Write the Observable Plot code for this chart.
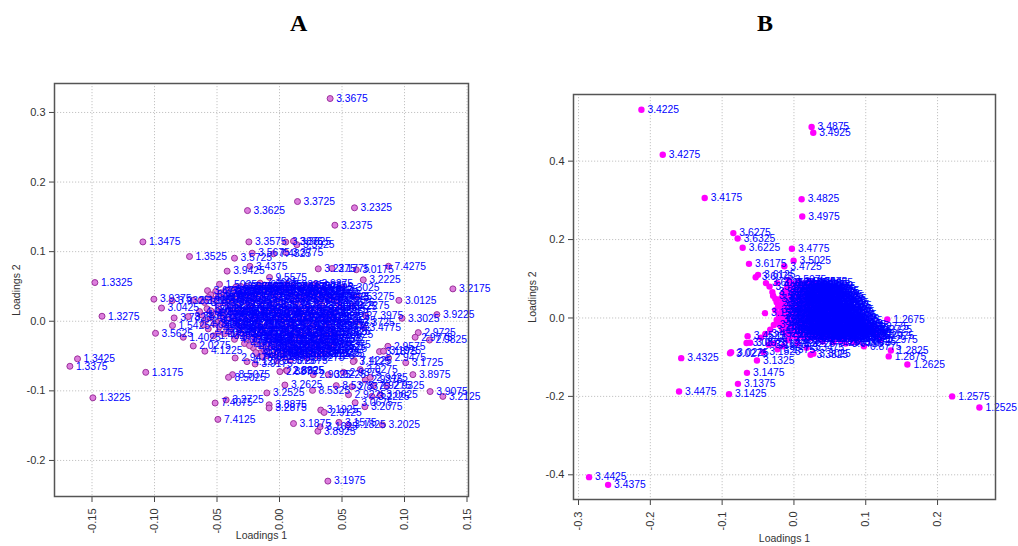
<!DOCTYPE html>
<html><head><meta charset="utf-8">
<script src="https://cdn.jsdelivr.net/npm/d3@7"></script>
<script src="https://cdn.jsdelivr.net/npm/@observablehq/plot@0.6"></script>
<style>
body{margin:0;background:#fff;}
#wrap{position:relative;width:1018px;height:546px;overflow:hidden;background:#fff;}
.ttl{position:absolute;font-family:"Liberation Serif","Times New Roman",serif;font-weight:bold;font-size:24px;line-height:1;color:#000;}
#pa{position:absolute;left:0;top:60px;}
#pb{position:absolute;left:510px;top:60px;}
</style></head><body>
<div id="wrap">
<div class="ttl" style="left:290px;top:11px">A</div>
<div class="ttl" style="left:757px;top:11px">B</div>
<div id="pa"></div><div id="pb"></div>
</div>
<script>
// ---------- Panel A : [loading1, loading2, label] ----------
const outliersA = [
 [0.0405,0.320,3.3675],[0.0144,0.172,3.3725],[0.060,0.163,3.2325],[-0.0256,0.159,3.3625],[0.0443,0.138,3.2375],
 [-0.1093,0.114,1.3475],[-0.0245,0.114,3.3575],[0.005,0.1137,3.3875],[0.0112,0.115,3.3825],[0.0139,0.110,3.3925],
 [-0.072,0.093,1.3525],[-0.036,0.0906,3.5725],[-0.0219,0.0978,3.5675],[-0.0048,0.0969,7.4825],[0.005,0.0988,3.3775],
 [-0.0237,0.079,3.4375],[-0.0419,0.072,3.9425],[-0.1477,0.0556,1.3325],[0.031,0.0753,3.2275],[0.042,0.0758,3.1775],
 [0.0614,0.074,3.0175],[0.0872,0.079,7.4275],[0.067,0.0595,3.2225],[0.050,0.048,3.3025],[0.1387,0.0465,3.2175],
 [-0.008,0.063,9.5575],[-0.048,0.053,1.5025],[-0.0155,0.0547,7.4625],[0.0288,0.0537,3.9275],[0.0955,0.030,3.0125],
 [-0.1005,0.0317,3.9375],[-0.0944,0.019,3.0425],[-0.142,0.0072,1.3275],[0.1259,0.0096,3.9225],[0.098,0.0043,3.3025],
 [-0.0992,-0.0173,3.5625],[0.111,-0.0163,2.9725],[0.1085,-0.023,2.9775],[0.120,-0.027,2.9825],[-0.1616,-0.054,1.3425],
 [-0.1677,-0.0647,1.3375],[-0.107,-0.0734,1.3175],[-0.1493,-0.110,1.3225],[0.101,-0.0595,3.1725],[0.1067,-0.0767,3.8975],
 [0.1205,-0.101,3.9075],[0.1307,-0.108,3.2125],[-0.0376,-0.0767,8.5075],[-0.0408,-0.0806,8.5025],[0.0003,-0.0724,2.8875],
 [0.0055,-0.0705,2.8925],[0.0043,-0.0916,3.2625],[-0.0101,-0.103,3.2525],[0.0264,-0.0993,8.5325],[-0.0427,-0.113,3.2725],
 [-0.0515,-0.1175,7.4075],[-0.0083,-0.120,3.8875],[-0.0083,-0.1247,3.2875],[-0.0493,-0.141,7.4125],[0.033,-0.1276,3.1925],
 [0.0357,-0.131,2.9125],[0.0112,-0.147,3.1875],[0.0475,-0.1453,3.1575],[0.055,-0.149,3.1825],[0.0307,-0.158,3.8925],
 [0.0325,-0.1516,3.1625],[0.0824,-0.149,3.2025],[0.0683,-0.1228,3.2075],[0.0387,-0.2297,3.1975],[0.0605,-0.117,3.0675],
 [0.0867,-0.036,2.9575],[0.080,-0.0436,3.1875],[0.0832,-0.043,3.1925],[0.0872,-0.0527,2.9475],[0.0598,-0.0566,7.4225],
 [0.0686,-0.0843,2.9375],[0.0726,-0.0806,2.9425],[0.0646,-0.0695,3.0275],[0.0752,-0.0925,2.9275],[0.0859,-0.0925,2.9325],
 [0.0454,-0.0925,8.5375],[0.0579,-0.094,2.8375],[0.0552,-0.1055,2.9225],[0.0739,-0.108,3.2225],[0.0806,-0.1055,3.0625],
 [0.0619,-0.0014,3.3725],[0.0672,-0.0086,3.4775],[0.069,0.008,7.3975],[0.058,0.022,3.2275],[0.062,0.035,3.3275],
 [-0.0355,-0.0528,2.9475],[-0.026,-0.058,4.1275],[-0.0195,-0.0614,3.9175],[-0.020,-0.0216,3.9125],[-0.0597,-0.043,4.1225],
 [-0.069,-0.0355,2.0275],[-0.077,-0.023,1.4025],[-0.0843,0.0048,3.7825],[-0.0856,-0.0062,1.5425],[-0.073,0.0067,3.7875],
 [-0.063,0.0297,3.9325],[-0.0576,0.044,3.6725],[-0.086,0.0297,3.9325],[-0.069,0.030,3.1025],[0.006,-0.071,2.8825],
 [0.0085,-0.0566,3.2675],[0.027,-0.0767,2.9025],[0.039,-0.0767,3.0225],[0.0512,-0.0734,2.9875],[0.059,-0.058,3.1125],
 [-0.010,-0.0494,8.7125],[-0.002,-0.0566,3.9075],[-0.018,-0.047,8.7175]
];
const clusterA = [
 [-0.040,0.046,3.9525],[-0.031,0.050,3.5825],[-0.022,0.048,7.4575],[-0.012,0.052,9.5625],[-0.003,0.049,3.9175],[0.006,0.053,3.9325],[0.017,0.047,3.2475],[0.024,0.051,3.9025],[0.033,0.045,3.3125],
 [-0.055,0.038,3.6725],[-0.047,0.041,1.5075],[-0.038,0.036,3.9475],[-0.029,0.042,3.5775],[-0.019,0.039,7.4675],[-0.010,0.043,9.5525],[-0.001,0.037,3.9125],[0.009,0.041,3.9375],[0.019,0.036,3.2525],[0.028,0.040,3.3175],[0.036,0.038,3.2825],[0.042,0.034,3.2775],
 [-0.045,0.034,1.5125],[-0.034,0.045,3.5875],[-0.025,0.036,7.4525],[-0.014,0.045,9.5675],[-0.005,0.040,3.9075],[0.004,0.046,3.3475],[0.013,0.038,3.2575],[0.022,0.043,3.3225],[0.031,0.035,3.2875],
 [-0.060,0.027,3.1025],[-0.052,0.031,1.5175],[-0.044,0.026,3.9625],[-0.036,0.030,3.5925],[-0.027,0.028,7.4475],[-0.018,0.032,9.5775],[-0.009,0.027,3.8975],[0.000,0.031,3.3525],[0.011,0.029,3.2625],[0.021,0.033,3.3275],[0.030,0.027,3.2925],[0.039,0.030,3.2725],[0.046,0.026,3.2675],
 [-0.058,0.018,1.4125],[-0.049,0.022,1.5225],[-0.041,0.017,3.9675],[-0.033,0.021,3.5975],[-0.024,0.019,7.4425],[-0.015,0.023,9.5825],[-0.006,0.018,3.8825],[0.004,0.022,3.3575],[0.013,0.017,3.2675],[0.023,0.021,3.3325],[0.032,0.019,3.2975],[0.041,0.016,3.2825],[0.048,0.021,3.3425],
 [-0.048,0.014,1.5275],[-0.039,0.024,3.9725],[-0.030,0.016,3.6025],[-0.022,0.025,7.4375],[-0.013,0.015,9.5875],[-0.004,0.024,3.8775],[0.006,0.016,3.3625],[0.015,0.025,3.2725],[0.025,0.014,3.3375],[0.034,0.023,3.3025],
 [-0.062,0.009,1.4175],[-0.053,0.012,1.5325],[-0.045,0.008,3.9775],[-0.037,0.013,3.6075],[-0.028,0.010,7.4325],[-0.020,0.007,9.5925],[-0.011,0.012,3.8725],[-0.002,0.009,3.3675],[0.007,0.013,3.2775],[0.016,0.008,3.3425],[0.026,0.011,3.3075],[0.035,0.007,3.2875],[0.044,0.012,3.3475],
 [-0.059,0.001,1.4225],[-0.050,-0.002,1.5375],[-0.042,0.003,3.9825],[-0.034,-0.001,3.6125],[-0.025,0.002,7.4275],[-0.016,-0.003,9.5975],[-0.007,0.001,3.8675],[0.002,-0.002,3.3725],[0.012,0.003,3.2825],[0.021,-0.001,3.3475],[0.030,0.002,3.3125],[0.039,-0.003,3.2925],[0.047,0.001,3.3525],
 [-0.046,-0.005,1.5425],[-0.037,0.005,3.9875],[-0.029,-0.006,3.6175],[-0.018,0.004,7.4225],[-0.009,-0.006,9.6025],[0.000,0.005,3.8625],[0.009,-0.005,3.3775],[0.018,0.004,3.2875],[0.027,-0.006,3.3525],[0.036,0.004,3.3175],
 [-0.057,-0.011,1.4275],[-0.048,-0.008,1.5475],[-0.039,-0.012,3.9925],[-0.030,-0.009,3.6225],[-0.021,-0.013,7.4175],[-0.013,-0.010,9.6075],[-0.004,-0.012,3.8575],[0.005,-0.008,3.3825],[0.015,-0.013,3.2925],[0.024,-0.009,3.3575],[0.033,-0.011,3.3225],[0.042,-0.008,3.2975],
 [-0.053,-0.021,1.4325],[-0.044,-0.018,1.5525],[-0.035,-0.022,3.9975],[-0.026,-0.019,3.6275],[-0.017,-0.023,7.4125],[-0.008,-0.020,9.6125],[0.001,-0.024,3.8525],[0.010,-0.018,3.3875],[0.019,-0.022,3.2975],[0.028,-0.019,3.3625],[0.037,-0.023,3.3275],[0.045,-0.020,3.3025],
 [-0.032,-0.015,4.0025],[-0.023,-0.026,3.6325],[-0.014,-0.016,7.4075],[-0.005,-0.027,9.6175],[0.004,-0.015,3.8475],[0.013,-0.026,3.3925],[0.022,-0.016,3.3025],[0.031,-0.026,3.3675],[0.040,-0.015,3.3325],
 [-0.028,-0.032,4.0075],[-0.019,-0.029,3.6375],[-0.010,-0.033,7.4025],[-0.001,-0.030,9.6225],[0.008,-0.034,3.8425],[0.017,-0.028,3.3975],[0.026,-0.031,3.3075],[0.035,-0.029,3.3725],[0.043,-0.033,3.3375],
 [-0.021,-0.038,4.0125],[-0.012,-0.042,3.6425],[-0.003,-0.039,7.3975],[0.006,-0.043,9.6275],[0.015,-0.040,3.8375],[0.024,-0.038,3.4025],[0.032,-0.042,3.3125],[0.040,-0.039,3.3775],
 [-0.016,-0.046,4.0175],[-0.007,-0.036,3.6475],[0.002,-0.047,7.3925],[0.011,-0.037,9.6325],[0.020,-0.046,3.8325],[0.028,-0.036,3.4075],[0.036,-0.046,3.3175],
 [-0.014,-0.051,4.0225],[-0.005,-0.048,3.6525],[0.004,-0.052,7.3875],[0.013,-0.049,9.6375],[0.022,-0.053,3.8275],[0.030,-0.050,3.4125],[0.038,-0.047,3.3225],
 [-0.035,0.049,4.0275],[-0.026,0.050,3.6575],[-0.017,0.049,7.3825],[-0.007,0.050,9.6425],[0.002,0.048,3.8225],[0.011,0.050,3.4175],[0.020,0.049,3.3275],[0.029,0.048,3.3825],
 [-0.051,0.043,4.0325],[-0.043,0.044,3.6625],[-0.035,0.042,7.3775],[-0.026,0.044,9.6475],[-0.017,0.043,3.8175],[-0.008,0.042,3.4225],[0.001,0.044,3.3325],[0.010,0.043,3.3875],[0.019,0.042,3.4275],[0.027,0.044,3.3375],[0.035,0.042,3.3925],
 [-0.057,0.034,4.0375],[-0.049,0.035,3.6675],[-0.040,0.033,7.3725],[-0.031,0.034,9.6525],[-0.022,0.035,3.8125],[-0.013,0.033,3.4325],[-0.004,0.034,3.3425],[0.006,0.035,3.3975],[0.015,0.033,3.4375],[0.024,0.034,3.3475],[0.033,0.033,3.4025],[0.044,0.035,3.4425],
 [-0.064,0.014,4.0425],[-0.055,0.015,3.6725],[-0.046,0.013,7.3675],[-0.036,0.014,9.6575],[-0.027,0.015,3.8075],[-0.019,0.013,3.4475],[-0.010,0.014,3.3525],[-0.001,0.015,3.4075],[0.009,0.013,3.4525],[0.018,0.014,3.3575],[0.028,0.015,3.4125],[0.037,0.013,3.4575],
 [-0.055,0.005,4.0475],[-0.047,0.004,3.6775],[-0.038,0.006,7.3625],[-0.030,0.005,9.6625],[-0.021,0.004,3.8025],[-0.012,0.006,3.4625],[-0.003,0.005,3.3625],[0.006,0.004,3.4175],[0.015,0.006,3.4675],[0.024,0.005,3.3675],[0.033,0.004,3.4225],[0.042,0.006,3.4725],
 [-0.061,-0.005,4.0525],[-0.052,-0.004,3.6825],[-0.043,-0.006,7.3575],[-0.034,-0.005,9.6675],[-0.026,-0.004,3.7975],[-0.017,-0.006,3.4775],[-0.008,-0.005,3.3725],[0.002,-0.004,3.4275],[0.011,-0.006,3.4825],[0.020,-0.005,3.3775],[0.029,-0.004,3.4325],[0.038,-0.006,3.4875],
 [-0.049,-0.016,4.0575],[-0.040,-0.015,3.6875],[-0.031,-0.017,7.3525],[-0.022,-0.016,9.6725],[-0.013,-0.015,3.7925],[-0.004,-0.017,3.4925],[0.006,-0.016,3.3825],[0.016,-0.015,3.4375],[0.025,-0.017,3.4975],[0.034,-0.016,3.3875],[0.043,-0.015,3.4425],
 [-0.036,-0.026,4.0625],[-0.027,-0.025,3.6925],[-0.018,-0.027,7.3475],[-0.009,-0.026,9.6775],[0.000,-0.025,3.7875],[0.009,-0.027,3.5025],[0.018,-0.026,3.3925],[0.027,-0.025,3.4475],[0.036,-0.027,3.5075],
 [-0.024,-0.035,4.0675],[-0.015,-0.036,3.6975],[-0.006,-0.034,7.3425],[0.003,-0.035,9.6825],[0.012,-0.036,3.7825],[0.021,-0.034,3.5125],[0.030,-0.035,3.3975],[0.039,-0.036,3.4525],
 [-0.019,-0.045,4.0725],[-0.010,-0.044,3.7025],[-0.001,-0.046,7.3375],[0.008,-0.045,9.6875],[0.017,-0.044,3.7775],[0.026,-0.046,3.5175],[0.034,-0.045,3.4025]
];

// ---------- Panel B : [loading1, loading2, label] ----------
const outliersB = [
 [-0.2124,0.531,3.4225],[0.0246,0.487,3.4875],[0.0269,0.4725,3.4925],[-0.1827,0.4163,3.4275],[-0.1243,0.306,3.4175],
 [0.0107,0.303,3.4825],[0.0116,0.259,3.4975],[-0.0844,0.2165,3.6275],[-0.0784,0.2028,3.6325],[-0.0714,0.179,3.6225],
 [-0.0028,0.1765,3.4775],[-0.0005,0.1458,3.5025],[-0.0134,0.132,3.4725],[-0.0626,0.138,3.6175],[-0.050,0.110,3.6125],
 [-0.0533,0.104,3.6075],[-0.0232,0.089,3.4125],[-0.0074,0.097,3.5075],[-0.0404,0.0123,3.1575],[0.130,-0.004,1.2675],
 [0.135,-0.083,1.2825],[0.132,-0.098,1.2875],[0.158,-0.1186,1.2625],[0.2203,-0.200,1.2575],[0.2583,-0.2285,1.2525],
 [-0.157,-0.1025,3.4325],[-0.160,-0.1875,3.4475],[-0.0654,-0.140,3.1475],[-0.078,-0.168,3.1375],[-0.0904,-0.1943,3.1425],
 [-0.0515,-0.1084,3.1325],[-0.0427,-0.087,3.1525],[-0.089,-0.090,3.0275],[-0.0875,-0.0875,3.0225],[0.0176,-0.076,3.3475],
 [0.0232,-0.094,3.3825],[0.027,-0.091,3.3025],[-0.0645,-0.0463,3.4525],[-0.066,-0.064,3.0875],[-0.061,-0.063,3.0925],
 [-0.2853,-0.406,3.4425],[-0.2588,-0.4256,3.4375],
 [-0.039,0.089,3.6025],[-0.034,0.080,3.5975],[-0.030,0.066,3.5925],[-0.029,0.057,3.5875],[-0.026,0.049,3.5825],
 [-0.024,0.040,3.5775],[-0.022,0.030,3.5725],[-0.026,0.020,3.5675],[-0.021,0.006,3.5625],[-0.024,-0.005,3.5575],
 [-0.028,-0.018,3.4625],[-0.033,-0.030,3.4575],[-0.040,-0.041,3.4525],[-0.046,-0.050,3.1675],[-0.035,-0.068,3.1625],
 [-0.023,-0.080,3.1575],[-0.015,-0.072,3.1725],[0.005,-0.065,3.3225],[0.040,-0.060,3.3125],[0.055,-0.062,3.2975],
 [0.072,-0.065,3.0725],[0.0974,-0.072,0.8775],[0.090,-0.060,3.0825],[0.120,-0.055,1.2975],[0.108,-0.022,1.2775],
 [0.112,-0.030,1.2725],[0.115,-0.045,1.2925],[0.100,-0.040,1.3025],[-0.028,-0.065,3.1775],[-0.009,-0.057,3.1825],
 [0.016,-0.045,3.2725],[0.037,-0.052,3.2925],[0.065,-0.057,3.0775],[0.083,-0.062,3.0675]
];
const clusterB = [
 [-0.004,0.090,3.5125],[0.006,0.093,3.5175],[0.014,0.088,3.5225],[0.022,0.092,1.2975],[0.030,0.089,1.2675],
 [-0.008,0.080,3.5225],[0.002,0.083,3.5275],[0.011,0.078,3.5325],[0.019,0.082,3.5375],[0.027,0.079,3.5425],[0.034,0.081,3.5475],
 [-0.012,0.070,3.4025],[-0.003,0.073,3.5575],[0.007,0.068,3.5625],[0.016,0.072,3.5675],[0.024,0.069,3.5725],[0.032,0.073,3.5775],[0.039,0.070,3.5825],
 [-0.015,0.061,3.3975],[-0.006,0.058,3.5925],[0.004,0.062,3.5975],[0.013,0.059,3.6025],[0.021,0.063,3.6075],[0.029,0.058,3.6125],[0.037,0.061,3.3675],[0.044,0.059,3.3625],
 [-0.018,0.050,3.3925],[-0.009,0.053,3.3875],[0.001,0.049,3.3825],[0.010,0.052,3.3775],[0.018,0.048,3.3725],[0.026,0.051,3.3575],[0.034,0.049,3.3525],[0.042,0.052,3.3475],[0.049,0.048,3.3425],
 [-0.016,0.040,3.3375],[-0.007,0.043,3.3325],[0.003,0.039,3.3275],[0.012,0.042,3.3225],[0.020,0.038,3.3175],[0.028,0.041,3.3125],[0.036,0.039,3.3075],[0.044,0.042,3.3025],[0.052,0.038,3.2975],
 [-0.019,0.030,3.2925],[-0.010,0.033,3.2875],[0.000,0.029,3.2825],[0.009,0.032,3.2775],[0.017,0.028,3.2725],[0.025,0.031,3.2675],[0.033,0.029,3.2625],[0.041,0.032,3.2575],[0.049,0.028,3.2525],[0.056,0.031,3.2475],
 [-0.017,0.020,3.2425],[-0.008,0.023,3.2375],[0.002,0.019,3.2325],[0.011,0.022,3.2275],[0.019,0.018,3.2225],[0.027,0.021,3.2175],[0.035,0.019,3.2125],[0.043,0.022,3.2075],[0.051,0.018,3.2025],[0.059,0.021,3.1975],
 [-0.020,0.010,3.1925],[-0.011,0.013,3.1875],[-0.001,0.009,3.1825],[0.008,0.012,3.1775],[0.016,0.008,3.1725],[0.024,0.011,3.1675],[0.032,0.009,3.1625],[0.040,0.012,3.1225],[0.048,0.008,3.1175],[0.056,0.011,3.1125],[0.063,0.009,3.1075],
 [-0.018,0.000,3.1025],[-0.009,0.003,3.0975],[0.001,-0.001,3.0925],[0.010,0.002,3.0825],[0.018,-0.002,3.0775],[0.026,0.001,3.0725],[0.034,-0.001,3.0675],[0.042,0.002,3.0625],[0.050,-0.002,3.0575],[0.058,0.001,3.0525],[0.066,-0.001,1.3075],
 [-0.021,-0.010,3.0475],[-0.012,-0.007,3.0425],[-0.002,-0.011,3.0375],[0.007,-0.008,3.0325],[0.015,-0.012,3.0175],[0.023,-0.009,3.0125],[0.031,-0.011,3.0075],[0.039,-0.008,3.0025],[0.047,-0.012,2.9975],[0.055,-0.009,2.9925],[0.063,-0.011,1.3125],[0.071,-0.008,1.3175],
 [-0.019,-0.020,2.9875],[-0.010,-0.023,2.9825],[0.000,-0.019,2.9775],[0.009,-0.022,2.9725],[0.017,-0.018,2.9675],[0.025,-0.021,2.9625],[0.033,-0.019,2.9575],[0.041,-0.022,2.9525],[0.049,-0.018,2.9475],[0.057,-0.021,2.9425],[0.065,-0.019,1.3225],[0.073,-0.022,1.3275],[0.080,-0.020,1.2825],
 [-0.016,-0.030,2.9375],[-0.007,-0.033,2.9325],[0.003,-0.029,2.9275],[0.012,-0.032,2.9225],[0.020,-0.028,2.9175],[0.028,-0.031,2.9125],[0.036,-0.029,2.9075],[0.044,-0.032,2.9025],[0.052,-0.028,2.8975],[0.060,-0.031,2.8925],[0.068,-0.029,1.3325],[0.076,-0.032,1.3375],[0.084,-0.030,1.2775],
 [-0.012,-0.040,2.8875],[-0.003,-0.043,2.8825],[0.006,-0.039,2.8775],[0.015,-0.042,2.8725],[0.023,-0.038,2.8675],[0.031,-0.041,2.8625],[0.039,-0.039,2.8575],[0.047,-0.042,2.8525],[0.055,-0.038,2.8475],[0.063,-0.041,2.8425],[0.071,-0.039,1.3425],[0.079,-0.042,1.3475],[0.087,-0.040,1.2725],
 [-0.006,-0.050,2.8375],[0.004,-0.053,2.8325],[0.013,-0.049,2.8275],[0.022,-0.052,2.8225],[0.030,-0.048,2.8175],[0.038,-0.051,2.8125],[0.046,-0.049,2.8075],[0.054,-0.052,2.8025],[0.062,-0.048,2.7975],[0.070,-0.051,1.3525],[0.078,-0.049,1.3575],[0.086,-0.052,1.3625],
 [-0.006,0.085,3.6125],[0.002,0.086,3.6175],[0.010,0.084,3.6225],[0.018,0.086,3.6275],[0.026,0.085,3.6325],
 [-0.010,0.075,3.6375],[-0.001,0.076,3.6425],[0.009,0.074,3.6475],[0.017,0.076,3.6525],[0.025,0.075,3.6575],[0.033,0.074,3.6625],
 [-0.013,0.065,3.6675],[-0.004,0.066,3.6725],[0.005,0.064,3.6775],[0.014,0.066,3.6825],[0.022,0.065,3.6875],[0.030,0.064,3.6925],[0.038,0.066,3.6975],
 [-0.016,0.055,3.7025],[-0.006,0.056,3.7075],[0.004,0.054,3.7125],[0.013,0.056,3.7175],[0.021,0.055,3.7225],[0.030,0.054,3.7275],[0.038,0.056,3.7325],[0.046,0.055,3.7375],
 [-0.014,0.045,3.7425],[-0.004,0.046,3.7475],[0.007,0.044,3.7525],[0.016,0.046,3.7575],[0.024,0.045,3.7625],[0.032,0.044,3.7675],[0.040,0.046,3.7725],[0.048,0.045,3.7775],
 [-0.015,0.035,3.7825],[-0.005,0.036,3.7875],[0.004,0.034,3.7925],[0.013,0.036,3.7975],[0.021,0.035,3.8025],[0.029,0.034,3.8075],[0.037,0.036,3.8125],[0.045,0.035,3.8175],[0.053,0.034,3.8225],
 [-0.013,0.025,3.8275],[-0.004,0.026,3.8325],[0.006,0.024,3.8375],[0.015,0.026,3.8425],[0.023,0.025,3.8475],[0.031,0.024,3.8525],[0.039,0.026,3.8575],[0.047,0.025,3.8625],[0.055,0.024,3.8675],
 [-0.015,0.015,3.8725],[-0.006,0.016,3.8775],[0.004,0.014,3.8825],[0.012,0.016,3.8875],[0.020,0.015,3.8925],[0.028,0.014,3.8975],[0.036,0.016,3.9025],[0.044,0.015,3.9075],[0.052,0.014,3.9125],[0.060,0.016,3.9175],
 [-0.014,0.005,3.9225],[-0.005,0.006,3.9275],[0.005,0.004,3.9325],[0.013,0.006,3.9375],[0.021,0.005,3.9425],[0.029,0.004,3.9475],[0.037,0.006,3.9525],[0.045,0.005,3.9575],[0.053,0.004,3.9625],[0.061,0.006,3.9675],
 [-0.016,-0.005,3.9725],[-0.007,-0.004,3.9775],[0.003,-0.006,3.9825],[0.011,-0.005,3.9875],[0.019,-0.004,3.9925],[0.027,-0.006,3.9975],[0.035,-0.005,4.0025],[0.043,-0.004,4.0075],[0.051,-0.006,4.0125],[0.059,-0.005,4.0175],[0.067,-0.004,1.3675],
 [-0.015,-0.015,4.0225],[-0.005,-0.014,4.0275],[0.004,-0.016,4.0325],[0.013,-0.015,4.0375],[0.021,-0.014,4.0425],[0.029,-0.016,4.0475],[0.037,-0.015,4.0525],[0.045,-0.014,4.0575],[0.053,-0.016,4.0625],[0.061,-0.015,4.0675],[0.069,-0.014,1.3725],[0.076,-0.016,1.3775],
 [-0.012,-0.025,4.0725],[-0.002,-0.024,4.0775],[0.007,-0.026,4.0825],[0.016,-0.025,4.0875],[0.024,-0.024,4.0925],[0.032,-0.026,4.0975],[0.040,-0.025,4.1025],[0.048,-0.024,4.1075],[0.056,-0.026,4.1125],[0.064,-0.025,4.1175],[0.072,-0.024,1.3825],[0.080,-0.026,1.3875],
 [-0.008,-0.035,4.1225],[0.001,-0.034,4.1275],[0.010,-0.036,4.1325],[0.019,-0.035,4.1375],[0.027,-0.034,4.1425],[0.035,-0.036,4.1475],[0.043,-0.035,4.1525],[0.051,-0.034,4.1575],[0.059,-0.036,4.1625],[0.067,-0.035,4.1675],[0.075,-0.034,1.3925],[0.083,-0.036,1.3975],
 [-0.002,-0.045,4.1725],[0.008,-0.044,4.1775],[0.017,-0.046,4.1825],[0.026,-0.045,4.1875],[0.034,-0.044,4.1925],[0.042,-0.046,4.1975],[0.050,-0.045,4.2025],[0.058,-0.044,4.2075],[0.066,-0.046,4.2125],[0.074,-0.045,1.4025],[0.082,-0.044,1.4075]
];

// axis settings
const ticksAx = [-0.15,-0.10,-0.05,0.00,0.05,0.10,0.15];
const ticksAy = [-0.2,-0.1,0.0,0.1,0.2,0.3];
const ticksBx = [-0.3,-0.2,-0.1,0.0,0.1,0.2];
const ticksBy = [-0.4,-0.2,0.0,0.2,0.4];
const domainAx = [-0.180,0.1512], domainAy = [-0.2518,0.3416];
const domainBx = [-0.307,0.2807], domainBy = [-0.463,0.570];
const axisTitles = ["Loadings 1","Loadings 2"];

const fmt = n => v => v.toFixed(n);
const gridStyle = {stroke:"#c4c4c4", strokeOpacity:1, strokeDasharray:"1.2,1.8", strokeWidth:1};

function panel(o){
  const data = o.outliers.concat(o.cluster);
  return Plot.plot({
    width:o.width, height:o.height,
    marginLeft:o.m[0], marginRight:o.m[1], marginTop:o.m[2], marginBottom:o.m[3],
    style:{fontFamily:"'Liberation Sans', Arial, Helvetica, sans-serif", fontSize:"11px", background:"#fff", color:"#333", overflow:"visible"},
    x:{domain:o.dx, inset:0},
    y:{domain:o.dy, inset:0},
    marks:[
      Plot.gridX(o.tx, gridStyle),
      Plot.gridY(o.ty, gridStyle),
      Plot.axisX(o.tx, {tickFormat:fmt(o.fx), tickRotate:-90, tickSize:6, tickPadding:6, label:null, stroke:"#444", fill:"#333", fontSize:11}),
      Plot.axisY(o.ty, {tickFormat:fmt(o.fy), tickSize:5, tickPadding:4, label:null, stroke:"#444", fill:"#333", fontSize:11}),
      Plot.dot(data, {x:d=>d[0], y:d=>d[1], ...o.dot}),
      Plot.text(data, {x:d=>d[0], y:d=>d[1], text:d=>d[2].toFixed(4), textAnchor:"start", dx:6, fill:"#0000ff", fontSize:10.3}),
      Plot.frame({stroke:"#555", strokeWidth:1.5}),
      Plot.text([axisTitles[0]], {frameAnchor:"bottom", dy:o.ldy, fill:"#333", fontSize:10.5}),
      Plot.text([axisTitles[1]], {frameAnchor:"left", dx:o.ldx, rotate:-90, textAnchor:"middle", fill:"#333", fontSize:10.5})
    ]
  });
}

document.getElementById("pa").append(panel({
  outliers:outliersA, cluster:clusterA, width:490, height:486, m:[54,22,23,50],
  dx:domainAx, dy:domainAy, tx:ticksAx, ty:ticksAy, fx:2, fy:1,
  dot:{r:3, fill:"#dd7ddd", stroke:"#9a2f9a", strokeWidth:1},
  ldy:42, ldx:-37.5
}));
document.getElementById("pb").append(panel({
  outliers:outliersB, cluster:clusterB, width:508, height:486, m:[63,23,34,47],
  dx:domainBx, dy:domainBy, tx:ticksBx, ty:ticksBy, fx:1, fy:1,
  dot:{r:3.2, fill:"#ff00ff", stroke:"none"},
  ldy:42.5, ldx:-40.5
}));
</script>
</body></html>
